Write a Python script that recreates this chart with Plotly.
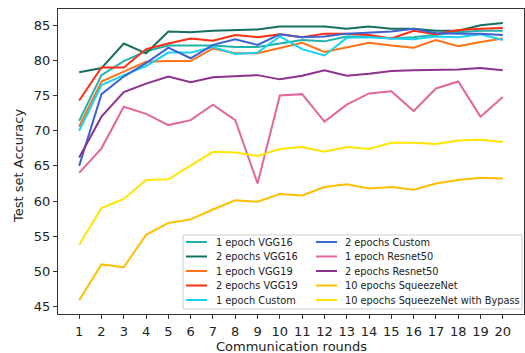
import plotly.graph_objects as go

rounds = list(range(1, 21))

vgg16_1ep = [71.4, 77.9, 79.9, 81.3, 82.1, 82.1, 82.1, 81.9, 81.9, 82.4,
             82.9, 82.7, 83.4, 83.4, 83.1, 83.3, 83.7, 84.0, 84.2, 84.2]
vgg16_2ep = [78.3, 78.9, 82.4, 81.0, 84.1, 84.0, 84.2, 84.3, 84.4, 84.8,
             84.8, 84.8, 84.5, 84.8, 84.5, 84.5, 84.2, 84.2, 85.0, 85.3]
vgg19_1ep = [70.6, 77.0, 78.4, 79.8, 79.9, 79.9, 81.7, 81.0, 81.0, 81.7,
             82.5, 81.2, 81.9, 82.5, 82.1, 81.8, 82.9, 82.0, 82.6, 83.1]
vgg19_2ep = [74.3, 79.0, 79.0, 81.6, 82.4, 83.1, 82.8, 83.6, 83.3, 83.7,
             83.3, 83.8, 83.8, 83.6, 83.1, 84.2, 83.7, 84.3, 84.5, 84.6]
custom_1ep = [70.0, 76.5, 77.9, 79.2, 81.1, 81.1, 81.9, 80.9, 81.1, 83.4,
              81.6, 80.7, 83.2, 83.3, 83.1, 83.0, 83.4, 83.3, 83.7, 82.9]
custom_2ep = [65.0, 75.2, 77.7, 79.6, 81.8, 80.3, 82.2, 83.0, 82.2, 83.7,
              83.3, 83.4, 83.8, 83.9, 84.1, 84.5, 83.9, 83.8, 83.8, 83.6]
resnet_1ep = [64.0, 67.5, 73.4, 72.4, 70.8, 71.5, 73.7, 71.5, 62.5, 75.0,
              75.2, 71.3, 73.7, 75.3, 75.6, 72.8, 76.0, 77.0, 72.0, 74.8]
resnet_2ep = [66.2, 72.0, 75.5, 76.7, 77.7, 76.9, 77.6, 77.7, 77.9, 77.3,
              77.8, 78.6, 77.8, 78.1, 78.5, 78.6, 78.6, 78.7, 78.9, 78.6]
squeeze_10ep = [45.9, 51.0, 50.6, 55.2, 56.9, 57.4, 58.8, 60.1, 59.9, 61.0,
                60.8, 62.0, 62.4, 61.8, 62.0, 61.6, 62.5, 63.0, 63.3, 63.2]
squeeze_bypass_10ep = [53.8, 59.0, 60.3, 63.0, 63.1, 65.1, 67.0, 66.9, 66.4, 67.4,
                       67.7, 67.0, 67.7, 67.4, 68.3, 68.3, 68.1, 68.6, 68.7, 68.4]

series_names = ["1 epoch VGG16", "2 epochs VGG16", "1 epoch VGG19", "2 epochs VGG19",
                "1 epoch Custom", "2 epochs Custom", "1 epoch Resnet50", "2 epochs Resnet50",
                "10 epochs SqueezeNet", "10 epochs SqueezeNet with Bypass"]
series_values = [vgg16_1ep, vgg16_2ep, vgg19_1ep, vgg19_2ep, custom_1ep,
                 custom_2ep, resnet_1ep, resnet_2ep, squeeze_10ep, squeeze_bypass_10ep]
series_colors = ["#20b2aa", "#17705f", "#ff7216", "#ff2e12", "#19d2f2",
                 "#3d63d2", "#e2679b", "#8c318e", "#ffbe00", "#ffe600"]

W, H = 525, 353
M_L, M_R, M_T, M_B = 58, 1, 9, 39
PLOT_W = W - M_L - M_R
PLOT_H = H - M_T - M_B


def px_x(px):
    return (px - M_L) / PLOT_W


def px_y(py):
    return (H - M_B - py) / PLOT_H


fig = go.Figure()
for name, vals, color in zip(series_names, series_values, series_colors):
    fig.add_trace(go.Scatter(
        x=rounds, y=vals, mode="lines", name=name,
        line=dict(color=color, width=2), showlegend=False,
    ))

font_family = "DejaVu Sans"
axis_color = "#333333"
text_color = "#222222"

fig.update_layout(
    width=W, height=H,
    margin=dict(l=M_L, r=M_R, t=M_T, b=M_B),
    paper_bgcolor="white", plot_bgcolor="white",
    font=dict(family=font_family, color=text_color),
    showlegend=False,
    xaxis=dict(
        range=[0.05, 20.95], tickmode="array", tickvals=rounds,
        ticks="outside", ticklen=4, tickcolor=axis_color,
        showline=True, linecolor=axis_color, linewidth=1, mirror=True,
        showgrid=False, zeroline=False, tickfont=dict(size=13),
        ticklabelstandoff=1, automargin=False,
    ),
    yaxis=dict(
        range=[43.95, 87.3], tickmode="array", tickvals=[45, 50, 55, 60, 65, 70, 75, 80, 85],
        ticks="outside", ticklen=4, tickcolor=axis_color,
        showline=True, linecolor=axis_color, linewidth=1, mirror=True,
        showgrid=False, zeroline=False, tickfont=dict(size=13), automargin=False,
    ),
)

# axis titles
fig.add_annotation(
    xref="paper", yref="paper", x=px_x(291), y=px_y(346.5),
    text="Communication rounds", showarrow=False, xanchor="center", yanchor="middle",
    font=dict(size=13, family=font_family, color=text_color),
)
fig.add_annotation(
    xref="paper", yref="paper", x=px_x(18), y=px_y(166),
    text="Test set Accuracy", showarrow=False, xanchor="center", yanchor="middle",
    textangle=-90, font=dict(size=13, family=font_family, color=text_color),
)

# legend: frame, then two columns of five entries
fig.add_shape(
    type="rect", xref="paper", yref="paper",
    x0=px_x(183), x1=px_x(522), y0=px_y(309), y1=px_y(235),
    line=dict(color="#cccccc", width=1), fillcolor="rgba(255,255,255,0.85)",
    layer="above",
)
row_y = [242, 256.5, 271, 285.5, 300]
col_handle = [(186, 207), (316, 337)]
col_text = [214, 343]
for i, (name, color) in enumerate(zip(series_names, series_colors)):
    col, row = divmod(i, 5)
    y = px_y(row_y[row])
    fig.add_shape(
        type="line", xref="paper", yref="paper",
        x0=px_x(col_handle[col][0]), x1=px_x(col_handle[col][1]), y0=y, y1=y,
        line=dict(color=color, width=2), layer="above",
    )
    fig.add_annotation(
        xref="paper", yref="paper", x=px_x(col_text[col]), y=y,
        text=name, showarrow=False, xanchor="left", yanchor="middle",
        font=dict(size=9.8, family=font_family, color=text_color),
    )

fig.write_html("out.html")
